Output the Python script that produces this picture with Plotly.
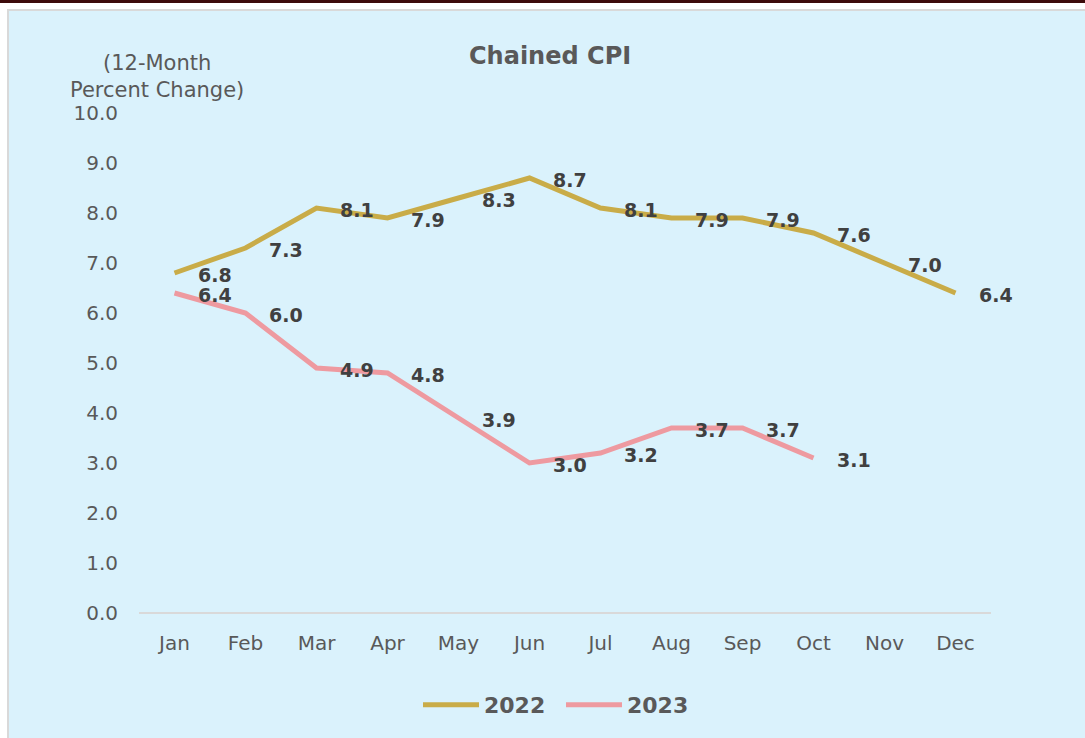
import plotly.graph_objects as go

months = ["Jan", "Feb", "Mar", "Apr", "May", "Jun", "Jul", "Aug", "Sep", "Oct", "Nov", "Dec"]
values_2022 = [6.8, 7.3, 8.1, 7.9, 8.3, 8.7, 8.1, 7.9, 7.9, 7.6, 7.0, 6.4]
values_2023 = [6.4, 6.0, 4.9, 4.8, 3.9, 3.0, 3.2, 3.7, 3.7, 3.1]
y_ticks = [0, 1, 2, 3, 4, 5, 6, 7, 8, 9, 10]

GOLD = "#C9AC48"
PINK = "#EE9AA0"
TEXT = "#595959"
LABEL = "#404040"
BG = "#DAF2FC"
FONT = "DejaVu Sans"

W, H = 1085, 738
L, R, T, B = 139, 94, 113, 125
pw, ph = W - L - R, H - T - B


def px_x(p):
    return (p - L) / pw


def px_y(p):
    return (H - B - p) / ph


fig = go.Figure()
fig.add_trace(go.Scatter(x=months, y=values_2022, mode="lines", name="2022",
                         line=dict(color=GOLD, width=5)))
fig.add_trace(go.Scatter(x=months[:len(values_2023)], y=values_2023, mode="lines", name="2023",
                         line=dict(color=PINK, width=5)))

annotations = []
for m, v in zip(months, values_2022):
    annotations.append(dict(x=m, y=v, xref="x", yref="y", text=f"{v:.1f}", showarrow=False,
                            xshift=40, yshift=-2,
                            font=dict(family=FONT, size=19, color=LABEL, weight="bold")))
for m, v in zip(months, values_2023):
    annotations.append(dict(x=m, y=v, xref="x", yref="y", text=f"{v:.1f}", showarrow=False,
                            xshift=40, yshift=-2,
                            font=dict(family=FONT, size=19, color=LABEL, weight="bold")))

annotations.append(dict(x=px_x(550), y=px_y(56), xref="paper", yref="paper", text="Chained CPI",
                        showarrow=False, xanchor="center", yanchor="middle",
                        font=dict(family=FONT, size=24, color=TEXT, weight="bold")))
annotations.append(dict(x=px_x(157), y=px_y(77), xref="paper", yref="paper",
                        text="(12-Month<br>Percent Change)", showarrow=False,
                        xanchor="center", yanchor="middle", align="center",
                        font=dict(family=FONT, size=21, color=TEXT)))

shapes = [
    dict(type="rect", xref="paper", yref="paper", layer="below",
         x0=px_x(8), x1=px_x(W + 10), y0=px_y(H + 10), y1=px_y(10),
         fillcolor=BG, line=dict(color="#D9D9D9", width=2)),
    dict(type="rect", xref="paper", yref="paper", layer="below",
         x0=px_x(-5), x1=px_x(W + 5), y0=px_y(3), y1=px_y(-5),
         fillcolor="#3D0B0B", line=dict(width=0)),
]

fig.update_layout(
    width=W, height=H,
    margin=dict(l=L, r=R, t=T, b=B),
    paper_bgcolor="white",
    plot_bgcolor="rgba(0,0,0,0)",
    font=dict(family=FONT, color=TEXT, size=20),
    showlegend=True,
    legend=dict(orientation="h", x=px_x(561), y=px_y(705), xanchor="center", yanchor="middle",
                bgcolor="rgba(0,0,0,0)", entrywidth=72, itemwidth=56,
                font=dict(family=FONT, size=22, color=TEXT, weight="bold")),
    xaxis=dict(type="category", categoryorder="array", categoryarray=months,
               range=[-0.5, len(months) - 0.5], showgrid=False, zeroline=False,
               showline=False, ticks="", ticklabelstandoff=16,
               tickfont=dict(family=FONT, size=20, color=TEXT), fixedrange=True),
    yaxis=dict(range=[0, 10], tickvals=y_ticks, ticktext=[f"{t:.1f}" for t in y_ticks],
               showgrid=False, zeroline=True, zerolinecolor="#D9D9D9", zerolinewidth=2,
               showline=False, ticks="", ticklabelstandoff=20,
               tickfont=dict(family=FONT, size=20, color=TEXT), fixedrange=True),
    annotations=annotations,
    shapes=shapes,
)

fig.write_html("out.html", config={"displayModeBar": False},
               post_script="document.body.style.margin='0';document.body.style.padding='0';")
